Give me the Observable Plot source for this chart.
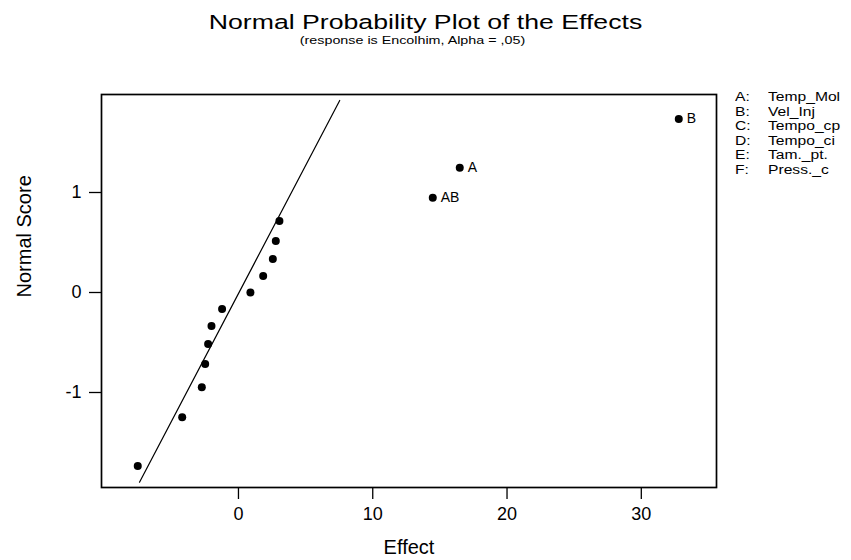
<!DOCTYPE html>
<html>
<head>
<meta charset="utf-8">
<script src="https://cdn.jsdelivr.net/npm/d3@7"></script>
<script src="https://cdn.jsdelivr.net/npm/@observablehq/plot@0.6"></script>
<style>
  html, body { margin: 0; padding: 0; background: #fff; }
  #wrap { position: relative; width: 851px; height: 560px; overflow: hidden; background: #fff;
          font-family: "Liberation Sans", Arial, sans-serif; color: #000; }
  #wrap svg { position: absolute; left: 0; top: 0; }
  .txt { position: absolute; white-space: nowrap; }
</style>
</head>
<body>
<div id="wrap"></div>
<script>
// ---- data ----
const effects = [-7.5, -4.19, -2.73, -2.48, -2.26, -2.01, -1.22, 0.89, 1.84, 2.56, 2.78, 3.05, 14.47, 16.48, 32.79];
const scores  = [-1.736, -1.248, -0.948, -0.715, -0.516, -0.335, -0.165, 0, 0.165, 0.335, 0.516, 0.715, 0.948, 1.248, 1.736];
const pointLabels = ["", "", "", "", "", "", "", "", "", "", "", "", "AB", "A", "B"];
const fitEffect = [-7.37, 7.54];
const fitScore  = [-1.897, 1.92];
const xTicks = [0, 10, 20, 30];
const yTicks = [-1, 0, 1];
const factorKeys  = ["A:", "B:", "C:", "D:", "E:", "F:"];
const factorNames = ["Temp_Mol", "Vel_Inj", "Tempo_cp", "Tempo_ci", "Tam._pt.", "Press._c"];
const titleText = "Normal Probability Plot of the Effects";
const subtitleText = "(response is Encolhim, Alpha = ,05)";
const xLabel = "Effect";
const yLabel = "Normal Score";

const points = effects.map((e, i) => ({effect: e, score: scores[i], label: pointLabels[i]}));
const fit = fitEffect.map((e, i) => ({effect: e, score: fitScore[i]}));

const chart = Plot.plot({
  width: 851,
  height: 560,
  marginLeft: 101,
  marginRight: 135,
  marginTop: 94,
  marginBottom: 73,
  x: {domain: [-10.2, 35.6]},
  y: {domain: [-1.95, 1.98]},
  style: {fontFamily: "'Liberation Sans', Arial, sans-serif", fontSize: "18px", color: "#000", background: "transparent", overflow: "visible"},
  marks: [
    Plot.axisX(xTicks, {tickSize: 12, tickPadding: 8, fontSize: 18, strokeWidth: 1.3, label: null, tickFormat: d => String(d)}),
    Plot.axisY(yTicks, {tickSize: 12, tickPadding: 8, fontSize: 18, strokeWidth: 1.3, label: null, tickFormat: d => String(d)}),
    Plot.frame({stroke: "#000", strokeWidth: 1.7}),
    Plot.line(fit, {x: "effect", y: "score", stroke: "#000", strokeWidth: 1.2}),
    Plot.dot(points, {x: "effect", y: "score", r: 4, fill: "#000", stroke: null}),
    Plot.text(points, {x: "effect", y: "score", text: "label", dx: 8, textAnchor: "start", lineAnchor: "middle", fontSize: 14, fill: "#000"}),
    Plot.text([xLabel], {frameAnchor: "bottom", dy: 60, lineAnchor: "middle", fontSize: 20, fill: "#000"}),
    Plot.text([yLabel], {frameAnchor: "left", dx: -77, dy: 6.5, rotate: -90, lineAnchor: "middle", fontSize: 20, fill: "#000"})
  ]
});

const wrap = document.getElementById("wrap");
wrap.appendChild(chart);

function addText(str, css) {
  const d = document.createElement("div");
  d.className = "txt";
  d.textContent = str;
  Object.assign(d.style, css);
  wrap.appendChild(d);
  return d;
}

// title and subtitle
addText(titleText, {left: "0px", width: "851px", textAlign: "center", top: "13.4px", fontSize: "20.5px", lineHeight: "17px",
  transform: "scaleX(1.3)", transformOrigin: "425.5px 0"});
addText(subtitleText, {left: "0px", width: "825px", textAlign: "center", top: "34.7px", fontSize: "11px", lineHeight: "11px",
  transform: "scaleX(1.3)", transformOrigin: "412.5px 0"});

// factor legend
factorKeys.forEach((k, i) => {
  const top = (97.5 + 14.6 * i - 6.5) + "px";
  const css = {top, fontSize: "12.5px", lineHeight: "13px", transform: "scaleX(1.25)", transformOrigin: "0 0"};
  addText(k, Object.assign({left: "735px"}, css));
  addText(factorNames[i], Object.assign({left: "768px"}, css));
});
</script>
</body>
</html>
